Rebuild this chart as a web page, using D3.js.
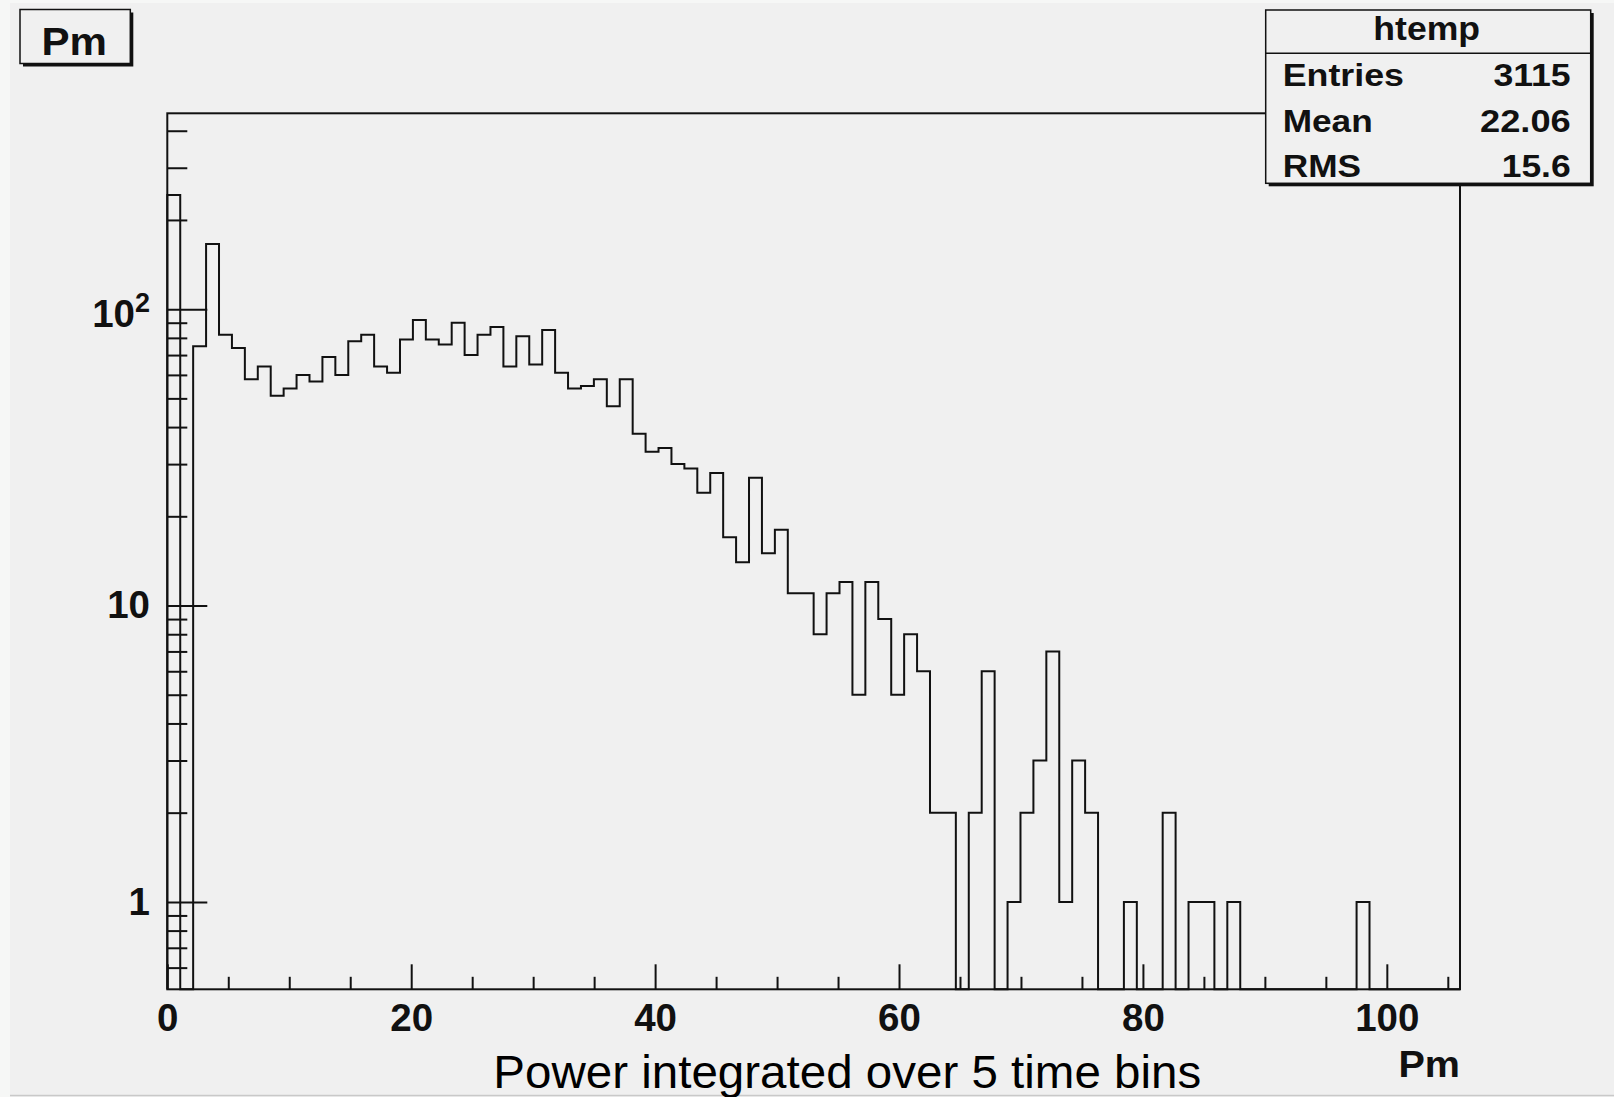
<!DOCTYPE html>
<html>
<head>
<meta charset="utf-8">
<script src="https://cdn.jsdelivr.net/npm/d3@7"></script>
<style>
  html, body { margin: 0; padding: 0; background: #f0f0f0; }
  svg { display: block; }
  text { font-family: "Liberation Sans", Arial, Helvetica, sans-serif; }
</style>
</head>
<body>
<svg id="chart" width="1614" height="1097"></svg>
<script>
// ---- data ----
const xMin = 0;
const xMax = 106;
const nBins = 100;
const counts = [
  243, 0, 75, 166, 82, 74, 58, 64, 51, 54,
  60, 57, 69, 60, 78, 82, 64, 61, 79, 92,
  79, 76, 90, 70, 82, 87, 64, 81, 65, 85,
  61, 54, 55, 58, 47, 58, 38, 33, 34, 30,
  29, 24, 28, 17, 14, 27, 15, 18, 11, 11,
  8, 11, 12, 5, 12, 9, 5, 8, 6, 2,
  2, 0, 2, 6, 0, 1, 2, 3, 7, 1,
  3, 2, 0, 0, 1, 0, 0, 2, 0, 1,
  1, 0, 1, 0, 0, 0, 0, 0, 0, 0,
  0, 0, 1, 0, 0, 0, 0, 0, 0, 0
];
const xMajorTicks = [0, 20, 40, 60, 80, 100];
const xMinorTicks = [5, 10, 15, 25, 30, 35, 45, 50, 55, 65, 70, 75, 85, 90, 95, 105];
const yMajorTicks = [1, 10, 100];
const yMajorLabels = ["1", "10", "10^2"];
const yMinorTicks = [0.6, 0.7, 0.8, 0.9, 2, 3, 4, 5, 6, 7, 8, 9, 20, 30, 40, 50, 60, 70, 80, 90, 200, 300, 400];
const yDomain = [0.507, 458];
const titleText = "Pm";
const xAxisTitle = "Pm";
const xCaption = "Power integrated over 5 time bins";
const statsTitle = "htemp";
const statsNames = ["Entries", "Mean", "RMS"];
const statsValues = ["3115", "22.06", "15.6"];

// ---- layout ----
const frame = { left: 167.3, right: 1460, top: 113.3, bottom: 989.3 };
const svg = d3.select("#chart");
const ink = "#111";

svg.append("rect").attr("x", 0).attr("y", 0).attr("width", 1614).attr("height", 1097).attr("fill", "#f0f0f0");
svg.append("rect").attr("x", 0).attr("y", 0).attr("width", 10).attr("height", 1097).attr("fill", "#f6f7f6");
svg.append("rect").attr("x", 0).attr("y", 0).attr("width", 1614).attr("height", 3).attr("fill", "#f6f7f6");
svg.append("line").attr("x1", 10).attr("x2", 1614).attr("y1", 1095.5).attr("y2", 1095.5)
  .attr("stroke", "#c9c9c9").attr("stroke-width", 1.5);

const x = d3.scaleLinear().domain([xMin, xMax]).range([frame.left, frame.right]);
const y = d3.scaleLog().domain(yDomain).range([frame.bottom, frame.top]);
const binW = (xMax - xMin) / nBins;

// histogram outline
const pts = [];
pts.push([x(xMin), y(yDomain[0])]);
counts.forEach((c, i) => {
  const v = c > 0 ? c : yDomain[0];
  pts.push([x(xMin + i * binW), y(v)]);
  pts.push([x(xMin + (i + 1) * binW), y(v)]);
});
pts.push([x(xMax), y(yDomain[0])]);
svg.append("path")
  .attr("d", d3.line()(pts))
  .attr("fill", "none")
  .attr("stroke", ink)
  .attr("stroke-width", 2)
  .attr("stroke-linejoin", "miter");

// x axis
const gx = svg.append("g").attr("transform", `translate(0,${frame.bottom})`);
gx.call(d3.axisBottom(x).tickValues(xMajorTicks).tickSize(-25).tickPadding(14).tickFormat(d3.format("d")));
gx.append("g").call(d3.axisBottom(x).tickValues(xMinorTicks).tickSize(-12.5).tickFormat(""));
gx.selectAll(".domain").remove();
gx.selectAll("line").attr("stroke", ink).attr("stroke-width", 2);
gx.selectAll("text").attr("fill", ink).attr("font-size", 38.5).attr("font-weight", "bold")
  .attr("font-family", "Liberation Sans, Arial, sans-serif");

// y axis
const gy = svg.append("g").attr("transform", `translate(${frame.left},0)`);
gy.call(d3.axisLeft(y).tickValues(yMajorTicks).tickSize(-40).tickPadding(17.3)
  .tickFormat((d, i) => yMajorLabels[i]));
gy.append("g").call(d3.axisLeft(y).tickValues(yMinorTicks).tickSize(-20).tickFormat(""));
gy.selectAll(".domain").remove();
gy.selectAll("line").attr("stroke", ink).attr("stroke-width", 2);
gy.selectAll(".tick text").attr("fill", ink).attr("font-size", 38.5).attr("font-weight", "bold")
  .attr("font-family", "Liberation Sans, Arial, sans-serif")
  .each(function (d, i) {
    const lab = yMajorLabels[yMajorTicks.indexOf(d)];
    if (lab && lab.indexOf("^") >= 0) {
      const parts = lab.split("^");
      const t = d3.select(this);
      t.text(null).attr("dy", null).attr("y", 17.5);
      t.append("tspan").text(parts[0]);
      t.append("tspan").attr("dy", -15.5).attr("font-size", 27).text(parts[1]);
    }
  });

// frame
svg.append("rect")
  .attr("x", frame.left).attr("y", frame.top)
  .attr("width", frame.right - frame.left).attr("height", frame.bottom - frame.top)
  .attr("fill", "none").attr("stroke", ink).attr("stroke-width", 2);

// x axis title + caption
svg.append("text").attr("x", frame.right).attr("y", 1076.7).attr("text-anchor", "end")
  .attr("font-size", 37).attr("font-weight", "bold").attr("fill", ink)
  .attr("textLength", 61.5).attr("lengthAdjust", "spacingAndGlyphs").text(xAxisTitle);
svg.append("text").attr("x", 493.3).attr("y", 1088.3)
  .attr("font-size", 47).attr("fill", "#000")
  .attr("textLength", 708).attr("lengthAdjust", "spacingAndGlyphs").text(xCaption);

// title box
const tb = { x: 20, y: 9.5, w: 110.3, h: 54 };
svg.append("rect").attr("x", tb.x + 3).attr("y", tb.y + 3).attr("width", tb.w).attr("height", tb.h).attr("fill", ink);
svg.append("rect").attr("x", tb.x).attr("y", tb.y).attr("width", tb.w).attr("height", tb.h)
  .attr("fill", "#f0f0f0").attr("stroke", ink).attr("stroke-width", 1.5);
svg.append("text").attr("x", 74.2).attr("y", 55).attr("text-anchor", "middle")
  .attr("font-size", 39.5).attr("font-weight", "bold").attr("fill", ink)
  .attr("textLength", 65.5).attr("lengthAdjust", "spacingAndGlyphs").text(titleText);

// stats box
const sb = { x: 1265.7, y: 10, w: 325, h: 173.3, sep: 53.3 };
svg.append("rect").attr("x", sb.x + 3).attr("y", sb.y + 3).attr("width", sb.w).attr("height", sb.h).attr("fill", ink);
svg.append("rect").attr("x", sb.x).attr("y", sb.y).attr("width", sb.w).attr("height", sb.h)
  .attr("fill", "#f0f0f0").attr("stroke", ink).attr("stroke-width", 1.5);
svg.append("line").attr("x1", sb.x).attr("x2", sb.x + sb.w).attr("y1", sb.sep).attr("y2", sb.sep)
  .attr("stroke", ink).attr("stroke-width", 1.5);
svg.append("text").attr("x", 1426.7).attr("y", 39.5).attr("text-anchor", "middle")
  .attr("font-size", 34).attr("font-weight", "bold").attr("fill", ink)
  .attr("textLength", 106.7).attr("lengthAdjust", "spacingAndGlyphs").text(statsTitle);
const rowBase = [85.7, 131.7, 176.7];
const nameW = [121.3, 90, 78.3];
const valW = [77.3, 90.7, 69];
statsNames.forEach((n, i) => {
  svg.append("text").attr("x", 1282.7).attr("y", rowBase[i])
    .attr("font-size", 31).attr("font-weight", "bold").attr("fill", ink)
    .attr("textLength", nameW[i]).attr("lengthAdjust", "spacingAndGlyphs").text(n);
  svg.append("text").attr("x", 1570.7 - valW[i]).attr("y", rowBase[i])
    .attr("font-size", 31).attr("font-weight", "bold").attr("fill", ink)
    .attr("textLength", valW[i]).attr("lengthAdjust", "spacingAndGlyphs").text(statsValues[i]);
});
</script>
</body>
</html>
